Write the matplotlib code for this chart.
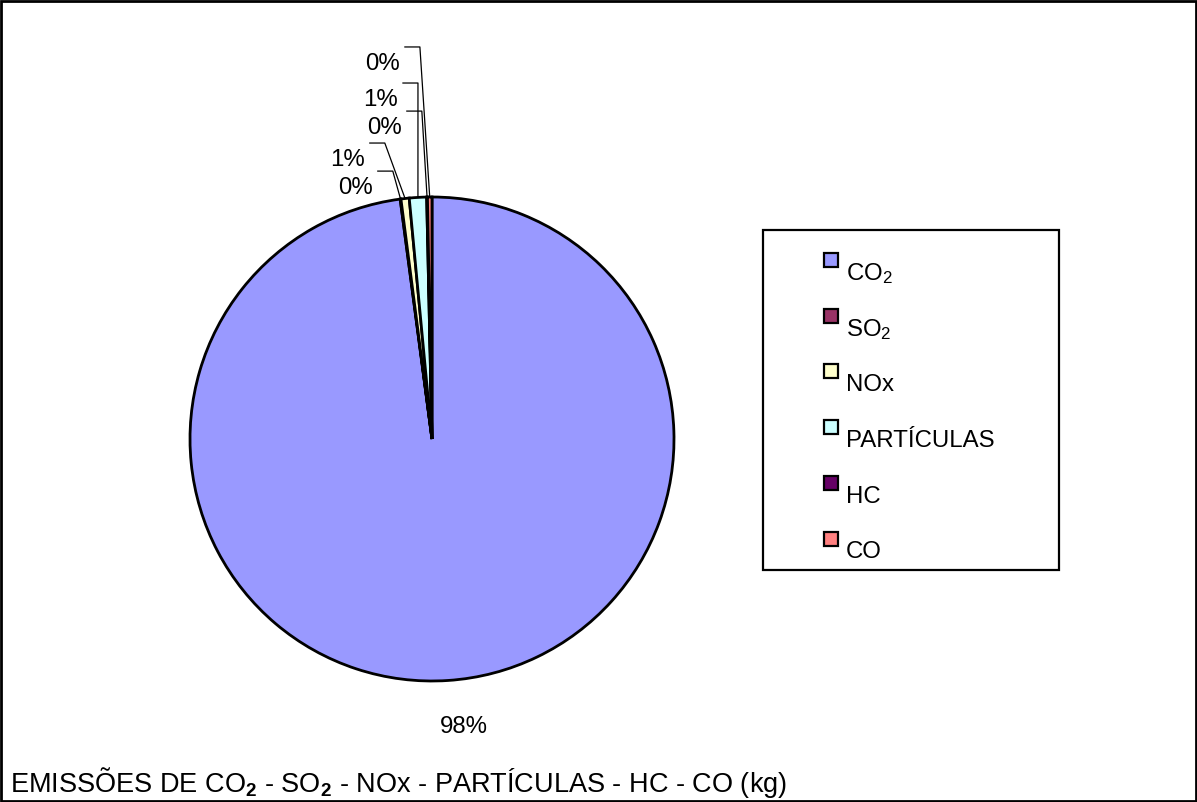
import numpy as np
import matplotlib.pyplot as plt
from matplotlib.patches import Rectangle

plt.rcParams['font.family'] = ['Liberation Sans', 'DejaVu Sans']
plt.rcParams['mathtext.fontset'] = 'custom'
plt.rcParams['mathtext.rm'] = 'Liberation Sans'
plt.rcParams['mathtext.bf'] = 'Liberation Sans:bold'
plt.rcParams['mathtext.default'] = 'regular'

# emissões (% do total)
categorias = ['CO$_2$', 'SO$_2$', 'NOx', 'PARTÍCULAS', 'HC', 'CO']
valores = [97.9, 0.05, 0.55, 1.15, 0.05, 0.3]
cores = ['#9999FF', '#993366', '#FFFFCC', '#CCFFFF', '#660066', '#FF8080']

# posição dos rótulos das fatias pequenas (borda direita x, centro y)
pos_rotulos = {1: (-0.244, 1.041), 2: (-0.277, 1.157), 3: (-0.140, 1.405),
               4: (-0.124, 1.289), 5: (-0.132, 1.554)}

W, H = 1197, 803
fig = plt.figure(figsize=(W / 100, H / 100), dpi=100)


def px(x, y):
    return x / W, 1 - y / H


# moldura externa
fig.patches.append(Rectangle((0.001, 0.001), 0.998, 0.997, transform=fig.transFigure,
                             fill=False, edgecolor='black', linewidth=2))

cx, cy, r = 432, 440, 242
ax = fig.add_axes([(cx - r) / W, 1 - (cy + r) / H, 2 * r / W, 2 * r / H])
wedges, _ = ax.pie(valores, colors=cores, startangle=90, counterclock=False,
                   wedgeprops=dict(edgecolor='black', linewidth=2.0))
ax.set_xlim(-1, 1)
ax.set_ylim(-1, 1)
ax.set_axis_off()

fs = 17.3
total = sum(valores)
for i, w in enumerate(wedges):
    pct = f'{round(valores[i] / total * 100):.0f}%'
    ang = np.deg2rad((w.theta1 + w.theta2) / 2)
    if i == 0:
        ax.text(1.19 * np.cos(ang) + 0.054, 1.19 * np.sin(ang), pct, ha='center',
                va='center', fontsize=fs, clip_on=False)
        continue
    xr, yc = pos_rotulos[i]
    ax.text(xr, yc, pct, ha='right', va='center', fontsize=fs, clip_on=False)
    yl = yc + 0.066
    x0 = xr + 0.02
    x1 = x0 + 0.062
    ax.plot([x0, x1, np.cos(ang)], [yl, yl, np.sin(ang)], color='black',
            linewidth=0.9, clip_on=False)

# legenda
fig.patches.append(Rectangle(px(763, 571), (1059 - 763) / W, (571 - 231) / H,
                             transform=fig.transFigure, fill=False,
                             edgecolor='black', linewidth=1.6))
sq = 14
for i, (nome, cor) in enumerate(zip(categorias, cores)):
    yc = 261 + i * 55.7
    fig.patches.append(Rectangle(px(824, yc + sq / 2), sq / W, sq / H,
                                 transform=fig.transFigure, facecolor=cor,
                                 edgecolor='black', linewidth=1.6))
    x, y = px(846, yc + 13)
    fig.text(x, y, nome, ha='left', va='center', fontsize=fs)

x, y = px(10, 783)
fig.text(x, y, 'EMISSÕES DE CO$_\\mathbf{2}$ - SO$_\\mathbf{2}$ - NOx - PARTÍCULAS - HC - CO (kg)',
         ha='left', va='center', fontsize=19.5)

fig.savefig('out.png', dpi=100)
